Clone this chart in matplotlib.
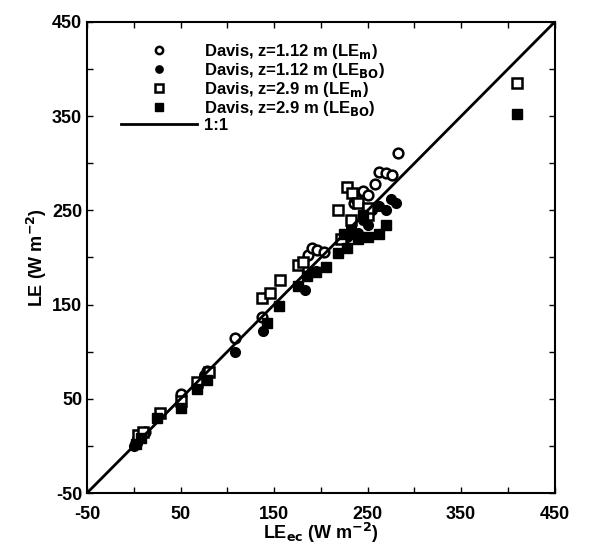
import numpy as np
import matplotlib.pyplot as plt

plt.rcParams['font.family'] = ['Liberation Sans', 'DejaVu Sans']
plt.rcParams['font.weight'] = 'bold'
plt.rcParams['axes.labelweight'] = 'bold'
plt.rcParams['mathtext.default'] = 'bf'
plt.rcParams['axes.unicode_minus'] = False

# Davis, z=1.12 m (LEm) - circulos abiertos
x_c_m = [2, 5, 12, 50, 78, 108, 137, 186, 190, 196, 203, 235, 238, 245, 250, 258, 262, 270, 276, 283]
y_c_m = [3, 8, 15, 55, 80, 115, 137, 203, 210, 208, 206, 258, 262, 271, 266, 278, 291, 290, 288, 311]

# Davis, z=1.12 m (LEBO) - circulos llenos
x_c_bo = [0, 3, 8, 50, 75, 108, 138, 183, 190, 195, 228, 232, 240, 245, 250, 255, 262, 270, 275, 280]
y_c_bo = [0, 3, 10, 48, 75, 100, 122, 165, 185, 186, 222, 232, 226, 240, 235, 250, 255, 250, 262, 258]

# Davis, z=2.9 m (LEm) - cuadrados abiertos
x_s_m = [5, 10, 28, 50, 68, 80, 137, 146, 156, 176, 181, 218, 222, 228, 233, 240, 250, 232, 250, 410]
y_s_m = [12, 15, 35, 48, 68, 78, 157, 162, 176, 192, 195, 250, 220, 275, 268, 258, 245, 240, 253, 385]

# Davis, z=2.9 m (LEBO) - cuadrados llenos
x_s_bo = [2, 8, 25, 50, 68, 78, 142, 155, 176, 185, 195, 205, 218, 225, 228, 235, 240, 245, 250, 262, 270, 410]
y_s_bo = [2, 8, 30, 40, 60, 70, 130, 148, 170, 180, 185, 190, 205, 225, 210, 225, 220, 245, 222, 225, 235, 352]

fig = plt.figure(figsize=(5.92, 5.49), dpi=100)
ax = fig.add_axes([0.147, 0.102, 0.79, 0.858])

ax.plot(x_c_m, y_c_m, 'o', ms=7, mfc='white', mec='black', mew=1.8,
        label='Davis, z=1.12 m (LE$_\\mathbf{m}$)')
ax.plot(x_c_bo, y_c_bo, 'o', ms=7, mfc='black', mec='black',
        label='Davis, z=1.12 m (LE$_\\mathbf{BO}$)')
ax.plot(x_s_m, y_s_m, 's', ms=7, mfc='white', mec='black', mew=1.8,
        label='Davis, z=2.9 m (LE$_\\mathbf{m}$)')
ax.plot(x_s_bo, y_s_bo, 's', ms=7, mfc='black', mec='black',
        label='Davis, z=2.9 m (LE$_\\mathbf{BO}$)')
ax.plot([-50, 450], [-50, 450], '-', color='black', lw=2, label='1:1')

ax.set_xlim(-50, 450)
ax.set_ylim(-50, 450)
ax.set_xticks(np.arange(-50, 451, 100))
ax.set_yticks(np.arange(-50, 451, 100))
ax.set_xticks(np.arange(0, 451, 100), minor=True)
ax.set_yticks(np.arange(0, 451, 100), minor=True)
ax.tick_params(which='both', direction='in', top=True, right=True,
               labelsize=13, length=4, width=1)
ax.tick_params(axis='x', pad=9)
for s in ax.spines.values():
    s.set_linewidth(1.5)

ax.set_xlabel('LE$_\\mathbf{ec}$ (W m$^{\\mathrm{-}\\mathbf{2}}$)', fontsize=13, labelpad=-1)
ax.set_ylabel('LE (W m$^{\\mathrm{-}\\mathbf{2}}$)', fontsize=13, labelpad=2)

leg = ax.legend(loc='upper left', bbox_to_anchor=(0.04, 0.99), frameon=False,
                fontsize=12, handlelength=4.6, markerscale=0.75,
                handletextpad=0.4, labelspacing=0.0)

plt.savefig('out.png')
plt.close()
